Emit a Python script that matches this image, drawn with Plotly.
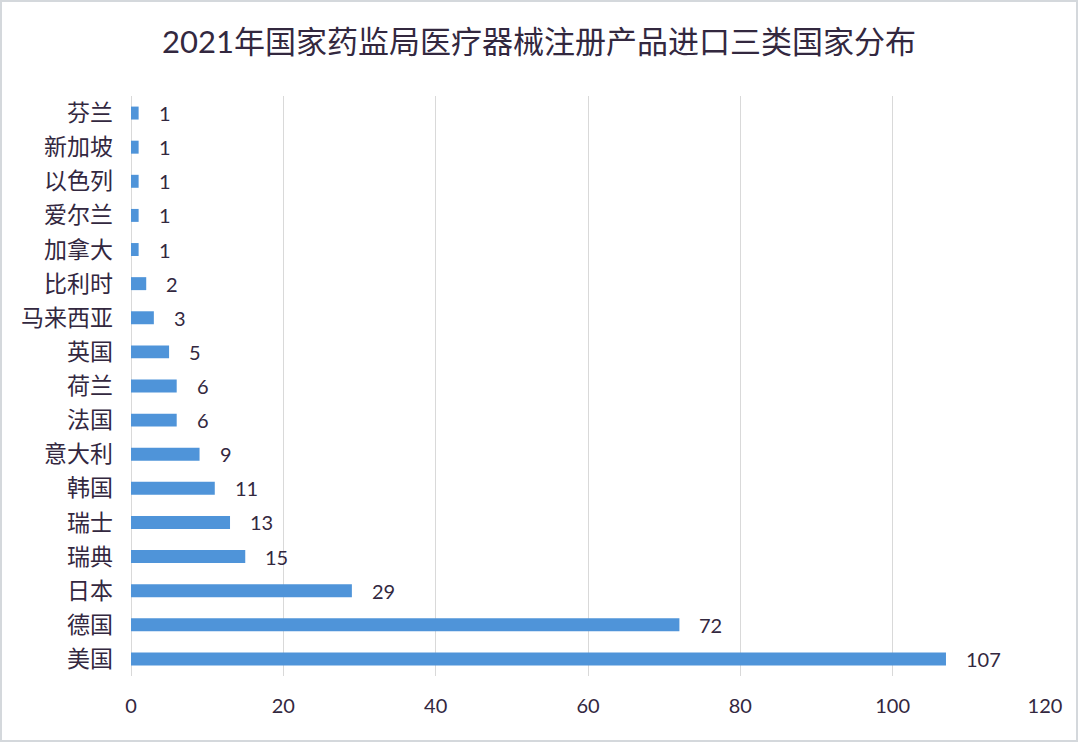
import plotly.graph_objects as go

# data (top to bottom)
countries = ["芬兰", "新加坡", "以色列", "爱尔兰", "加拿大", "比利时", "马来西亚", "英国",
             "荷兰", "法国", "意大利", "韩国", "瑞士", "瑞典", "日本", "德国", "美国"]
counts = [1, 1, 1, 1, 1, 2, 3, 5, 6, 6, 9, 11, 13, 15, 29, 72, 107]
x_ticks = [0, 20, 40, 60, 80, 100, 120]

title_text = "2021年国家药监局医疗器械注册产品进口三类国家分布"
font_family = "Lato, 'Noto Sans CJK SC', sans-serif"
text_color = "#33283f"
bar_color = "#4f94d9"

fig = go.Figure(
    go.Bar(
        x=counts,
        y=countries,
        orientation="h",
        width=0.38,
        marker=dict(color=bar_color, line=dict(width=0)),
        hoverinfo="x+y",
    )
)

# value labels, pushed a bit away from the bar ends
for c, v in zip(countries, counts):
    fig.add_annotation(
        x=v, y=c, text=str(v), showarrow=False,
        xanchor="left", xshift=18,
        font=dict(size=20, color=text_color, family=font_family),
    )

W, H = 1078, 742
ml, mr, mt, mb = 131, 33, 96, 66
pw, ph = W - ml - mr, H - mt - mb

# light frame around the whole picture
fig.add_shape(
    type="rect", xref="paper", yref="paper",
    x0=-(ml - 1) / pw, x1=1 + (mr - 1) / pw,
    y0=-(mb - 1) / ph, y1=1 + (mt - 1) / ph,
    line=dict(color="#d4d8dc", width=2), layer="below",
)

fig.update_layout(
    width=W, height=H,
    margin=dict(l=ml, r=mr, t=mt, b=mb),
    paper_bgcolor="white",
    plot_bgcolor="white",
    showlegend=False,
    font=dict(family=font_family, color=text_color),
    title=dict(
        text=title_text, x=0.5, xref="container", xanchor="center",
        y=1 - 42 / H, yanchor="middle",
        font=dict(size=31, color=text_color, family=font_family),
    ),
    xaxis=dict(
        range=[0, 120], tickvals=x_ticks, showgrid=True,
        gridcolor="#d9d9d9", gridwidth=1,
        zeroline=True, zerolinecolor="#d9d9d9", zerolinewidth=1, showline=False,
        tickfont=dict(size=20, color=text_color), ticks="", ticklabelstandoff=16,
        fixedrange=True,
    ),
    yaxis=dict(
        autorange="reversed", showgrid=False, zeroline=False,
        showline=False, ticks="", ticklabelstandoff=17,
        tickfont=dict(size=23, color=text_color), fixedrange=True,
    ),
)

fig.write_html("out.html", config={"displayModeBar": False},
               post_script="document.body.style.margin='0';")
